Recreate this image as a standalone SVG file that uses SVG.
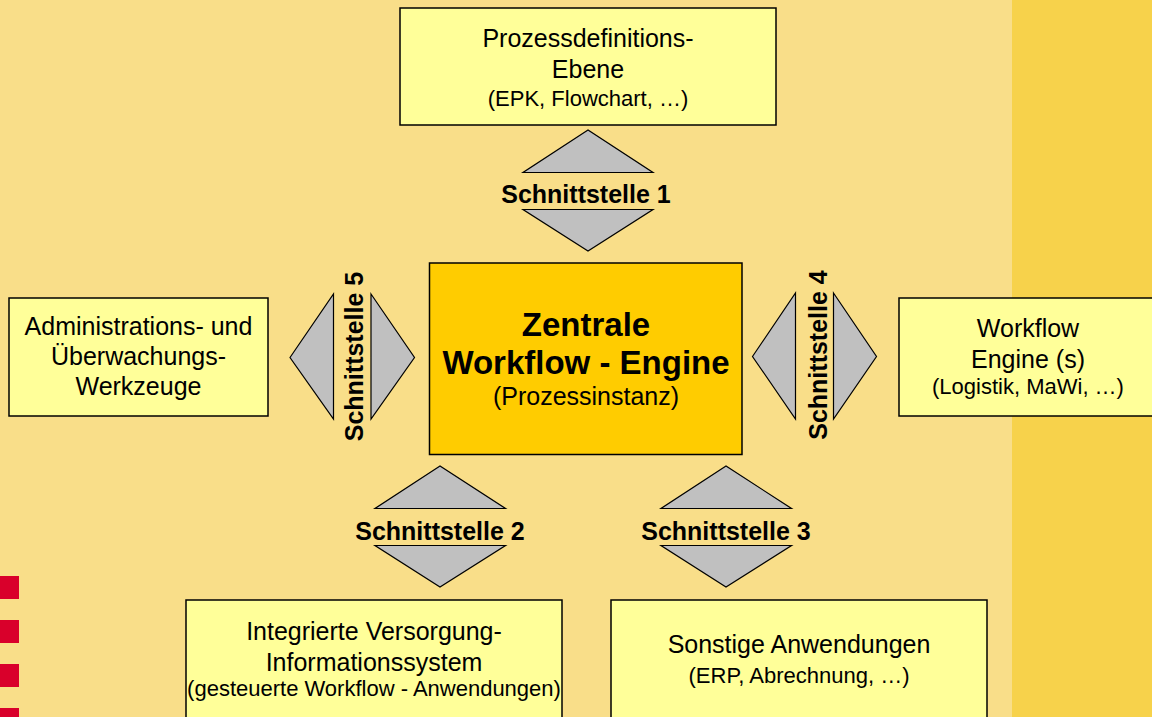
<svg xmlns="http://www.w3.org/2000/svg" width="1152" height="717" viewBox="0 0 1152 717">
<style>
.box{fill:#FFFF99;stroke:#000;stroke-width:1.5}
.core{fill:#FFCC00;stroke:#000;stroke-width:1.5}
.tri{fill:#C0C0C0;stroke:#000;stroke-width:1.2;stroke-linejoin:miter}
text{font-family:"Liberation Sans",Arial,sans-serif;fill:#000;text-anchor:middle}
.t{font-size:25px}
.s{font-size:22px}
.lbl{font-size:25px;font-weight:bold}
.big{font-size:33px;font-weight:bold}
.sq{fill:#D9002B}
</style>
<rect x="0" y="0" width="1152" height="717" fill="#F9DE89"/>
<rect x="1012" y="0" width="140" height="717" fill="#F7D24B"/>
<g id="decor">
<rect class="sq" x="0" y="576" width="19" height="23"/>
<rect class="sq" x="0" y="620" width="19" height="23"/>
<rect class="sq" x="0" y="664" width="19" height="23"/>
<rect class="sq" x="0" y="708" width="19" height="23"/>
</g>
<g id="connectors">
<g id="s1">
<polygon class="tri" points="588,130 523,172.5 653,172.5"/>
<polygon class="tri" points="523,209.5 653,209.5 588,251"/>
<text class="lbl" x="586" y="203">Schnittstelle 1</text>
</g>
<g id="s2">
<polygon class="tri" points="440,466 375,508.5 505.5,508.5"/>
<polygon class="tri" points="375,545.5 505.5,545.5 440,587"/>
<text class="lbl" x="440" y="540">Schnittstelle 2</text>
</g>
<g id="s3">
<polygon class="tri" points="726,466 661,508.5 791.5,508.5"/>
<polygon class="tri" points="661,545.5 791.5,545.5 726,587"/>
<text class="lbl" x="726" y="540">Schnittstelle 3</text>
</g>
<g id="s5">
<polygon class="tri" points="290,357.5 333.5,294 333.5,419"/>
<polygon class="tri" points="371,294 414.5,357.5 371,419"/>
<text class="lbl" transform="translate(354,356.5) rotate(-90)" x="0" y="0" dominant-baseline="central">Schnittstelle 5</text>
</g>
<g id="s4">
<polygon class="tri" points="752.5,356.5 795.5,293 795.5,419"/>
<polygon class="tri" points="833.5,293 876.5,356.5 833.5,419"/>
<text class="lbl" transform="translate(818,355) rotate(-90)" x="0" y="0" dominant-baseline="central">Schnittstelle 4</text>
</g>
</g>
<g id="n-prozess">
<rect class="box" x="400" y="8" width="376" height="117"/>
<text class="t" x="588" y="47">Prozessdefinitions-</text>
<text class="t" x="588" y="78">Ebene</text>
<text class="s" x="588" y="106">(EPK, Flowchart, …)</text>
</g>
<g id="n-admin">
<rect class="box" x="9" y="298" width="259" height="118"/>
<text class="t" x="138.5" y="335">Administrations- und</text>
<text class="t" x="138.5" y="365">Überwachungs-</text>
<text class="t" x="138.5" y="395">Werkzeuge</text>
</g>
<g id="n-zentral">
<rect class="core" x="429.5" y="263" width="312.5" height="191.5"/>
<text class="big" x="586" y="336">Zentrale</text>
<text class="big" x="586" y="374">Workflow - Engine</text>
<text class="t" x="586" y="405">(Prozessinstanz)</text>
</g>
<g id="n-engines">
<rect class="box" x="899" y="298" width="259" height="118"/>
<text class="t" x="1028" y="337">Workflow</text>
<text class="t" x="1028" y="368">Engine (s)</text>
<text class="s" x="1028" y="394">(Logistik, MaWi, …)</text>
</g>
<g id="n-ivis">
<rect class="box" x="186" y="600" width="376" height="130"/>
<text class="t" x="374" y="640">Integrierte Versorgung-</text>
<text class="t" x="374" y="671">Informationssystem</text>
<text class="s" x="374" y="696">(gesteuerte Workflow - Anwendungen)</text>
</g>
<g id="n-sonstige">
<rect class="box" x="611" y="600" width="376" height="130"/>
<text class="t" x="799" y="653">Sonstige Anwendungen</text>
<text class="s" x="799" y="683">(ERP, Abrechnung, …)</text>
</g>
</svg>
